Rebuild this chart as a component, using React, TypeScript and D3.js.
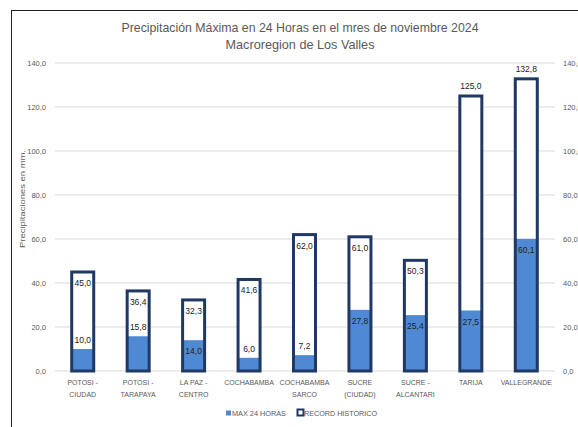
import React from "react";
import * as d3 from "d3";

const categories: string[][] = [
  ["POTOSI -", "CIUDAD"],
  ["POTOSI -", "TARAPAYA"],
  ["LA PAZ -", "CENTRO"],
  ["COCHABAMBA"],
  ["COCHABAMBA", "SARCO"],
  ["SUCRE", "(CIUDAD)"],
  ["SUCRE -", "ALCANTARI"],
  ["TARIJA"],
  ["VALLEGRANDE"],
];
const max24: number[] = [10.0, 15.8, 14.0, 6.0, 7.2, 27.8, 25.4, 27.5, 60.1];
const record: number[] = [45.0, 36.4, 32.3, 41.6, 62.0, 61.0, 50.3, 125.0, 132.8];
const maxLabelAbove: boolean[] = [true, true, false, true, true, false, false, false, false];
const recordLabelAbove: boolean[] = [false, false, false, false, false, false, false, true, true];
const yTicks: number[] = [0, 20, 40, 60, 80, 100, 120, 140];
const titleLines = [
  "Precipitación  Máxima en 24 Horas  en el mres de noviembre 2024",
  "Macroregion de Los Valles",
];
const yAxisTitle = "Precipitaciones en mm.";
const legendLabels = ["MAX 24 HORAS", "RECORD HISTORICO"];

const W = 578;
const H = 427;
const FONT = "'Liberation Sans', Arial, sans-serif";
const GRAY = "#595959";
const BLUE = "#5089D3";
const NAVY = "#1F3864";

const fmt = (v: number) => v.toFixed(1).replace(".", ",");

export default function App() {
  const x = d3
    .scaleBand<number>()
    .domain(d3.range(categories.length))
    .range([55, 554])
    .paddingInner(0)
    .paddingOuter(0);
  const y = d3.scaleLinear().domain([0, 140]).range([371, 63]);
  const barW = 22;

  return (
    <svg
      width={W}
      height={H}
      style={{ position: "absolute", left: 0, top: 0, background: "#fff" }}
      fontFamily={FONT}
    >
      <rect x={0} y={0} width={W} height={H} fill="#fff" />
      {/* chart border */}
      <line x1={11.5} y1={10} x2={11.5} y2={H} stroke="#222" strokeWidth={1} />
      <line x1={11} y1={10.5} x2={W} y2={10.5} stroke="#222" strokeWidth={1} />

      {/* title */}
      <text x={300} y={32} textAnchor="middle" fontSize={13} fill={GRAY} textLength={357} lengthAdjust="spacingAndGlyphs">
        {titleLines[0]}
      </text>
      <text x={300} y={49} textAnchor="middle" fontSize={13} fill={GRAY} textLength={149} lengthAdjust="spacingAndGlyphs">
        {titleLines[1]}
      </text>

      {/* gridlines & ticks */}
      {yTicks.map((t) => (
        <g key={t}>
          <line x1={55} x2={555} y1={y(t)} y2={y(t)} stroke="#D9D9D9" strokeWidth={1} />
          <text x={46} y={y(t) + 3} textAnchor="end" fontSize={7.5} fill={GRAY}>
            {fmt(t)}
          </text>
          <text x={563} y={y(t) + 3} textAnchor="start" fontSize={7.5} fill={GRAY}>
            {fmt(t)}
          </text>
        </g>
      ))}

      {/* y-axis title */}
      <text
        transform={`translate(25,199) rotate(-90)`}
        textAnchor="middle"
        fontSize={8}
        fill={GRAY}
        textLength={98}
        lengthAdjust="spacingAndGlyphs"
      >
        {yAxisTitle}
      </text>

      {/* bars */}
      {categories.map((_, i) => {
        const cx = (x(i) as number) + x.bandwidth() / 2;
        const bx = cx - barW / 2;
        return (
          <g key={i}>
            <rect x={bx} y={y(record[i])} width={barW} height={y(0) - y(record[i])} fill="#fff" />
            <rect x={bx} y={y(max24[i])} width={barW} height={y(0) - y(max24[i])} fill={BLUE} />
            <rect
              x={bx}
              y={y(record[i])}
              width={barW}
              height={y(0) - y(record[i])}
              fill="none"
              stroke={NAVY}
              strokeWidth={3}
            />
          </g>
        );
      })}

      {/* labels */}
      {categories.map((_, i) => {
        const cx = (x(i) as number) + x.bandwidth() / 2;
        const ry = recordLabelAbove[i] ? y(record[i]) - 7 : y(record[i]) + 14;
        const my = maxLabelAbove[i] ? y(max24[i]) - 6 : y(max24[i]) + 14;
        return (
          <g key={"l" + i}>
            <text x={cx} y={ry} textAnchor="middle" fontSize={8.5} fill="#222">
              {fmt(record[i])}
            </text>
            <text x={cx} y={my} textAnchor="middle" fontSize={8.5} fill="#222">
              {fmt(max24[i])}
            </text>
          </g>
        );
      })}

      {/* category labels */}
      {categories.map((lines, i) => {
        const cx = (x(i) as number) + x.bandwidth() / 2;
        return (
          <text key={"c" + i} textAnchor="middle" fontSize={7} fill={GRAY}>
            {lines.map((ln, j) => (
              <tspan key={j} x={cx} y={385 + j * 12}>
                {ln}
              </tspan>
            ))}
          </text>
        );
      })}

      {/* legend */}
      <rect x={226} y={410.5} width={5} height={5} fill={BLUE} />
      <text x={232} y={416} fontSize={7} fill={GRAY} textLength={54} lengthAdjust="spacingAndGlyphs">
        {legendLabels[0]}
      </text>
      <rect x={297.5} y={409.5} width={6} height={6} fill="#fff" stroke={NAVY} strokeWidth={2} />
      <text x={304} y={416} fontSize={7} fill={GRAY} textLength={73} lengthAdjust="spacingAndGlyphs">
        {legendLabels[1]}
      </text>
    </svg>
  );
}
